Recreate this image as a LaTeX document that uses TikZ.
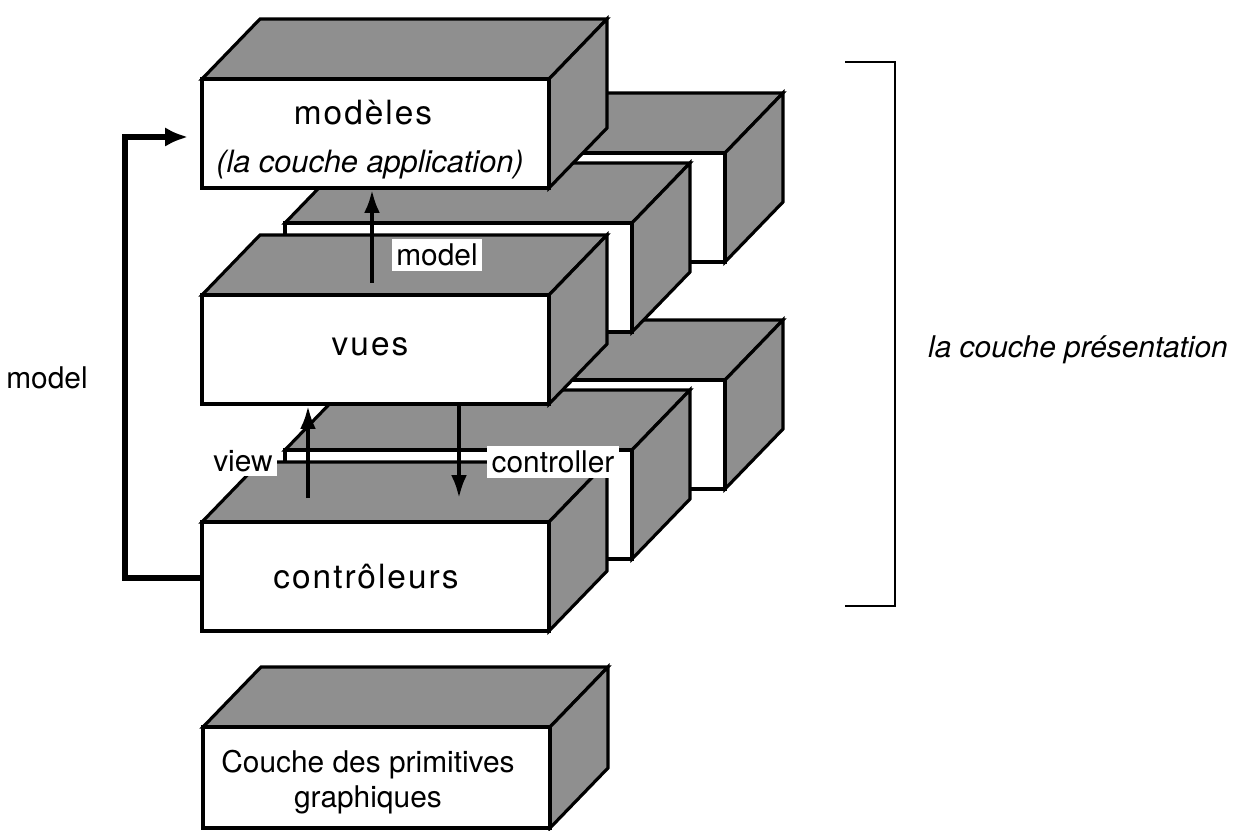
\documentclass[tikz,border=0pt]{standalone}
\usepackage{fontspec}
\setmainfont{TeX Gyre Heros}
\newfontfamily\espace[LetterSpace=6]{TeX Gyre Heros}
\usetikzlibrary{arrows.meta}
\definecolor{trame}{gray}{0.56}
\tikzset{
  face/.style={fill=trame, draw=black, line width=1.8pt},
  devant/.style={fill=white, draw=black, line width=1.8pt},
  fleche/.style={line width=2.2pt, -{Latex[length=13pt, width=9pt]}},
  retour/.style={line width=3.4pt, -{Latex[length=13pt, width=11pt]}},
  etiquette/.style={fill=white, inner sep=2.5pt},
  crochet/.style={line width=1.4pt}
}
\newcommand{\bloc}[3][109]{%
  \filldraw[face] (#2,#3) -- ++(58,-60) -- ++(347,0) -- ++(-58,60) -- cycle;
  \filldraw[face] (#2+347,#3) -- ++(58,-60) -- ++(0,#1) -- ++(-58,60) -- cycle;
  \filldraw[devant] (#2,#3) rectangle ++(347,#1);
}
\begin{document}
\begin{tikzpicture}[x=0.02cm, y=-0.02cm, font=\fontsize{17}{20}\selectfont]
\useasboundingbox (0,0) rectangle (1241,831);
\bloc{378}{380}
\bloc{285}{450}
\bloc{378}{153}
\bloc{285}{223}
\bloc{202}{79}
\bloc{202}{295}
\bloc{202}{522}
\bloc[101]{203}{727}
\node[font=\fontsize{19}{22}\selectfont] (modeles) at (363,113) {\espace modèles};
\node[font=\fontsize{17.5}{20}\selectfont] (application) at (370,165) {\itshape (la couche application)};
\node[font=\fontsize{19}{22}\selectfont] (vues) at (370,347) {\espace vues};
\node[font=\fontsize{19}{22}\selectfont] (controleurs) at (366,577) {\espace contrôleurs};
\node[align=center] (primitives) at (368,782) {Couche des primitives\\graphiques};
\coordinate (vuesHaut) at (372,283);
\coordinate (modelesBas) at (372,190);
\coordinate (ctrlHaut) at (308,498);
\coordinate (vuesBas) at (308,406);
\coordinate (vuesBas2) at (459,406);
\coordinate (ctrlHaut2) at (459,498);
\coordinate (ctrlGauche) at (202,578);
\coordinate (modelesGauche) at (188,137);
\draw[fleche] (vuesHaut) -- (modelesBas);
\draw[fleche] (ctrlHaut) -- (vuesBas);
\draw[fleche] (vuesBas2) -- (ctrlHaut2);
\draw[retour] (ctrlGauche) -- ++(-77,0) |- (modelesGauche);
\node[etiquette] (lmodel) at (437,255) {model};
\node[etiquette] (lview) at (243,461) {view};
\node[etiquette] (lcontroller) at (553,462) {controller};
\node (lmodelg) at (47,378) {model};
\coordinate (crochetHaut) at (845,62);
\coordinate (crochetBas) at (845,606);
\draw[crochet] (crochetHaut) -- ++(50,0) |- (crochetBas);
\node (presentation) at (1078,350) {\itshape la couche présentation};
\end{tikzpicture}
\end{document}
